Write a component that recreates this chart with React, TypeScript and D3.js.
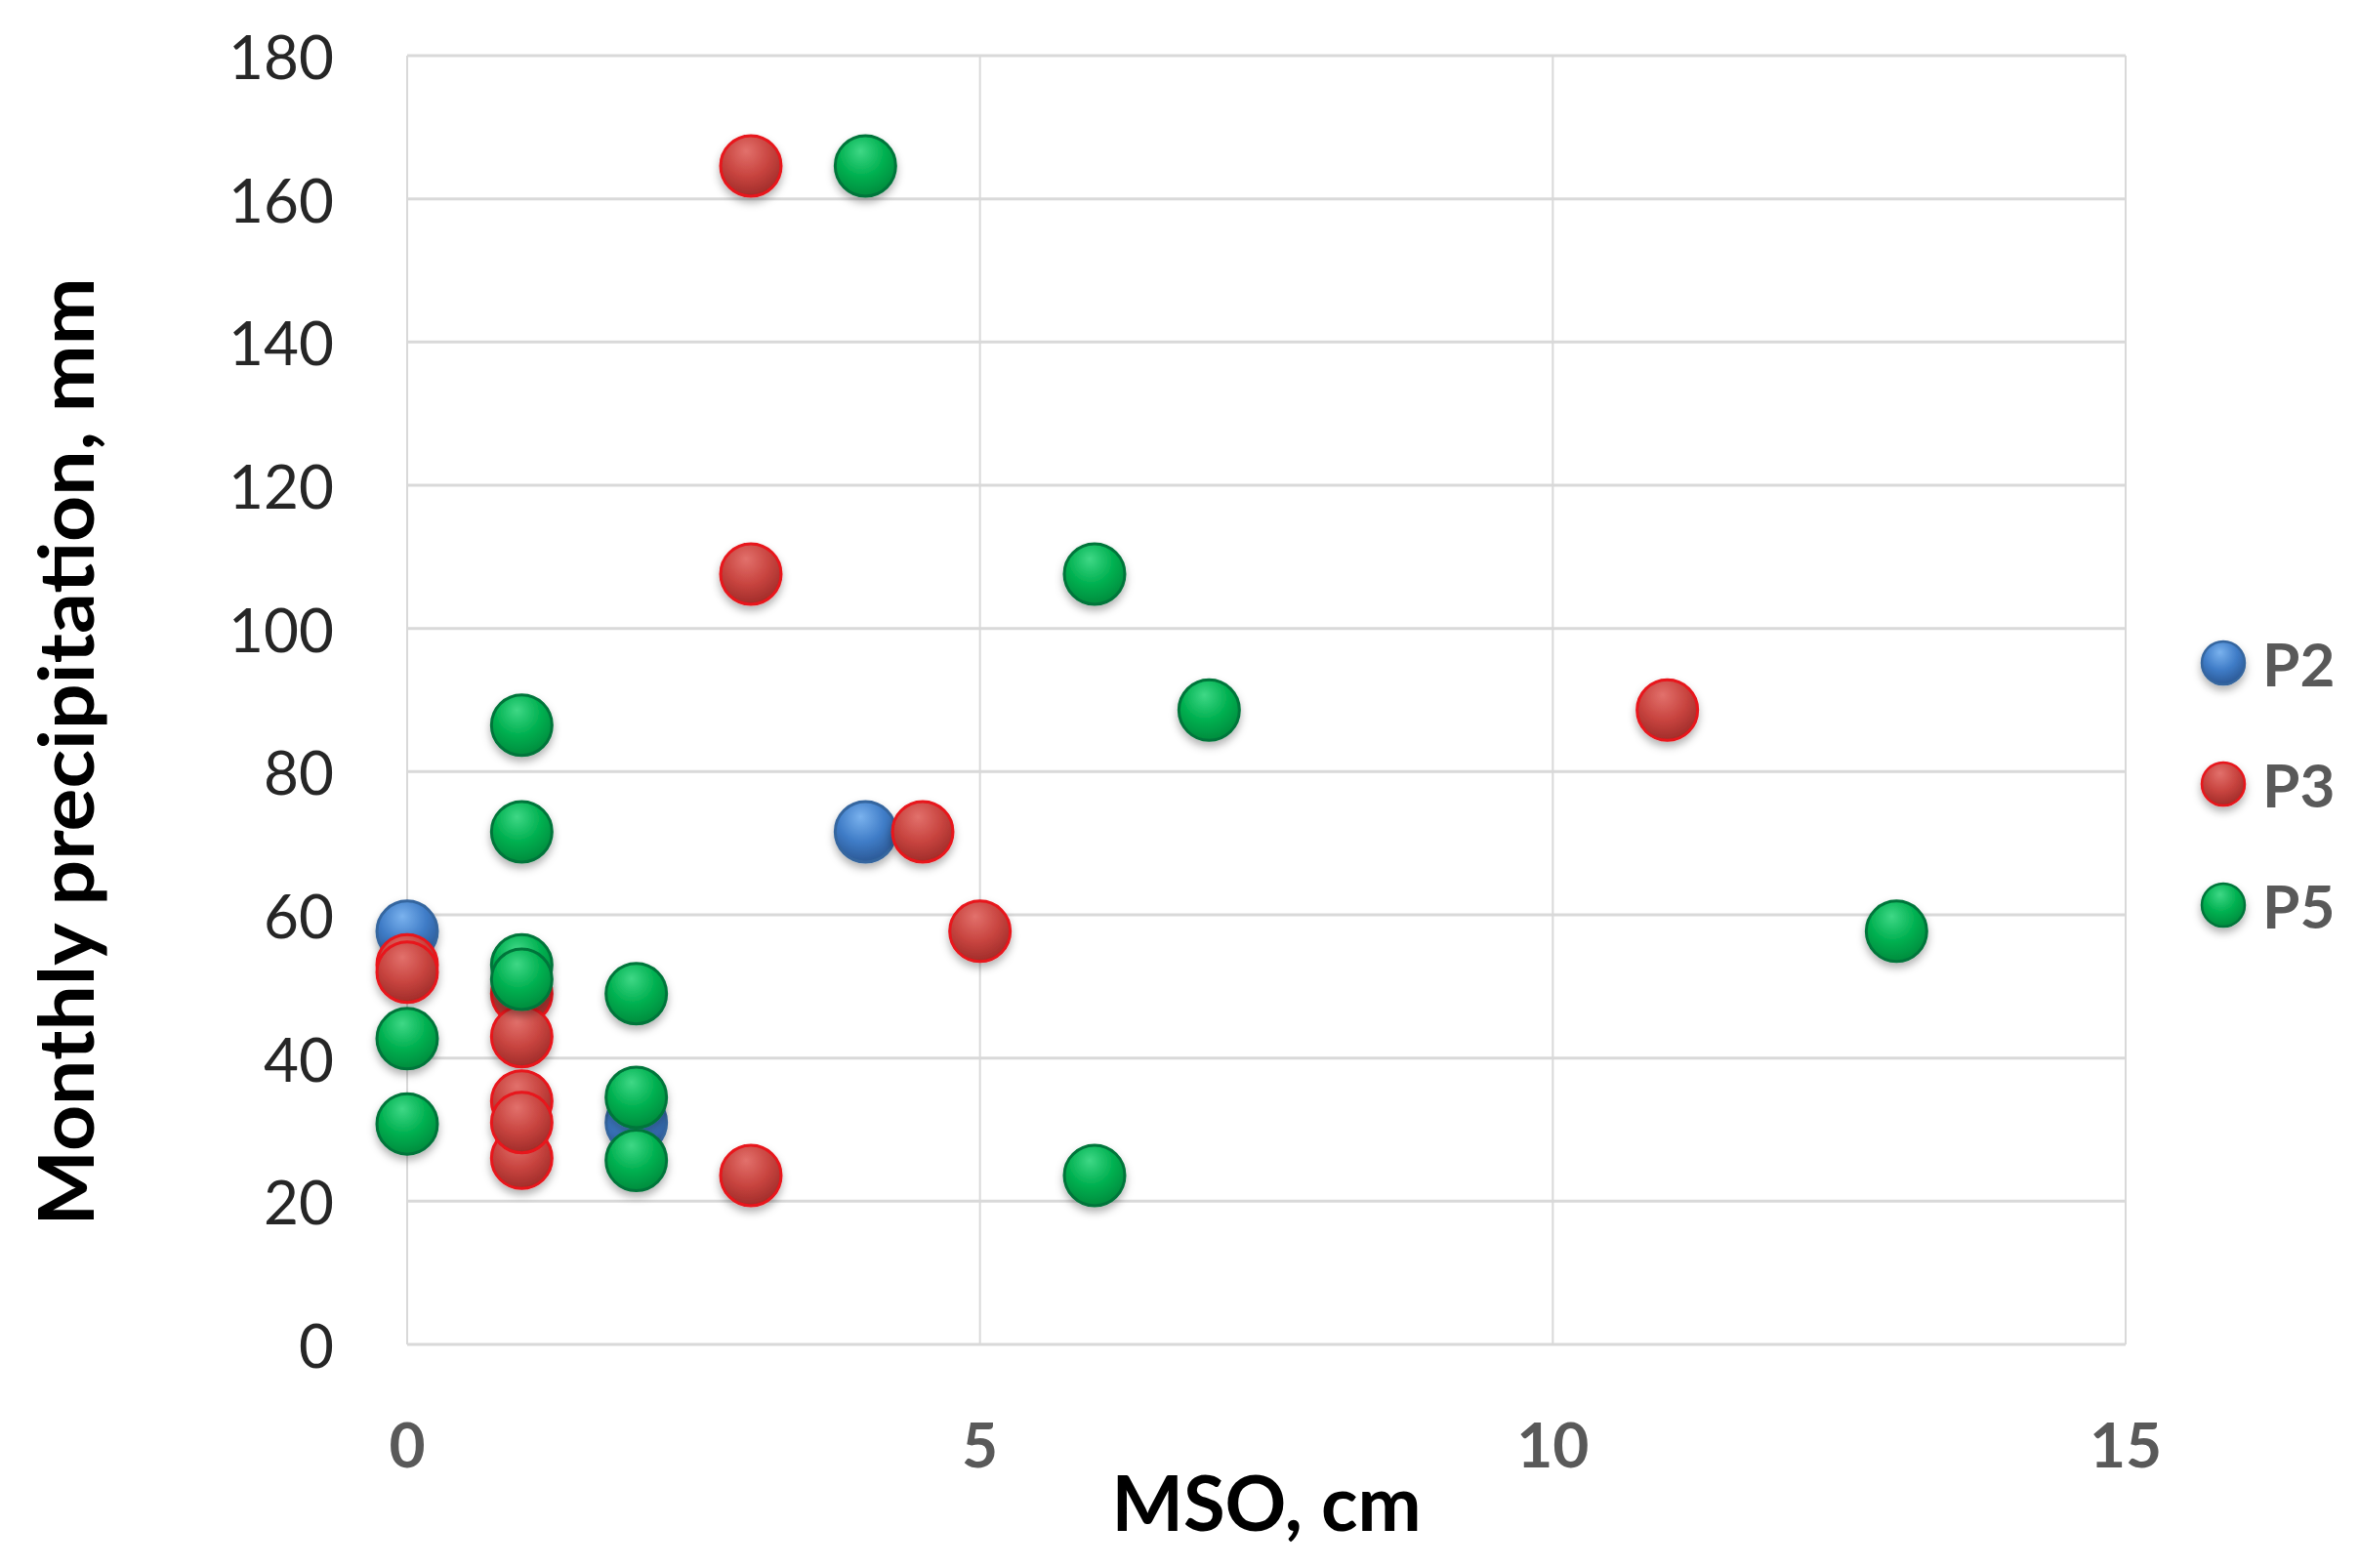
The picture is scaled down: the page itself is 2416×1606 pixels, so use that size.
import * as d3 from "d3"

// MSO (cm) vs monthly precipitation (mm), three sites
const p2X = [0, 4, 2]
const p2Y = [57.7, 71.6, 31]

const p3X = [3, 3, 11, 4.5, 5, 0, 0, 1, 1, 1, 1, 1, 3]
const p3Y = [164.6, 107.6, 88.6, 71.6, 57.7, 53, 52, 49, 43, 34, 26, 31, 23.6]

const p5X = [4, 6, 7, 1, 1, 13, 1, 1, 2, 0, 0, 2, 2, 6]
const p5Y = [164.6, 107.6, 88.6, 86.5, 71.6, 57.7, 53, 51, 49, 42.7, 30.8, 34.5, 25.7, 23.6]

const xTicks = [0, 5, 10, 15]
const yTicks = [0, 20, 40, 60, 80, 100, 120, 140, 160, 180]

const seriesNames = ["P2", "P3", "P5"]

interface Series {
  name: string
  xs: number[]
  ys: number[]
  light: string
  base: string
  dark: string
  stroke: string
}

const series: Series[] = [
  { name: seriesNames[0], xs: p2X, ys: p2Y, light: "#7ab2ee", base: "#3f7cc7", dark: "#2a5793", stroke: "#35669f" },
  { name: seriesNames[1], xs: p3X, ys: p3Y, light: "#e2716c", base: "#c8443f", dark: "#9e2b28", stroke: "#e8141a" },
  { name: seriesNames[2], xs: p5X, ys: p5Y, light: "#3fd886", base: "#00b050", dark: "#008a3c", stroke: "#00753a" },
]

const W = 2416
const H = 1606
const margin = { left: 417, right: 2177, top: 57, bottom: 1377 }

export default function App() {
  const x = d3.scaleLinear().domain([0, 15]).range([margin.left, margin.right])
  const y = d3.scaleLinear().domain([0, 180]).range([margin.bottom, margin.top])
  const r = 31

  return (
    <div style={{ position: "fixed", left: 0, top: 0 }}>
      <svg width={W} height={H} style={{ display: "block", background: "#fff" }}>
        <defs>
          {series.map((s) => (
            <radialGradient key={s.name} id={`grad-${s.name}`} cx="45%" cy="32%" r="70%" fx="42%" fy="25%">
              <stop offset="0%" stopColor={s.light} />
              <stop offset="55%" stopColor={s.base} />
              <stop offset="100%" stopColor={s.dark} />
            </radialGradient>
          ))}
          <filter id="shadow" x="-50%" y="-50%" width="200%" height="200%">
            <feDropShadow dx="0" dy="5" stdDeviation="4" floodColor="#000" floodOpacity="0.3" />
          </filter>
        </defs>

        {/* gridlines */}
        {yTicks.map((t) => (
          <line key={`gy${t}`} x1={margin.left} x2={margin.right} y1={y(t)} y2={y(t)} stroke="#d9d9d9" strokeWidth={3} />
        ))}
        {xTicks.map((t) => (
          <line key={`gx${t}`} x1={x(t)} x2={x(t)} y1={margin.top} y2={margin.bottom} stroke="#d9d9d9" strokeWidth={2} />
        ))}

        {/* y tick labels */}
        {yTicks.map((t) => (
          <text
            key={`ty${t}`}
            x={342}
            y={y(t)}
            textAnchor="end"
            dominantBaseline="central"
            fontFamily="Lato, 'Open Sans', sans-serif"
            fontSize={62}
            fill="#262626"
          >
            {t}
          </text>
        ))}

        {/* x tick labels */}
        {xTicks.map((t) => (
          <text
            key={`tx${t}`}
            x={x(t)}
            y={1478}
            textAnchor="middle"
            dominantBaseline="central"
            fontFamily="Lato, 'Open Sans', sans-serif"
            fontWeight="bold"
            fontSize={64}
            fill="#595959"
          >
            {t}
          </text>
        ))}

        {/* points */}
        {series.map((s) => (
          <g key={s.name} filter="url(#shadow)">
            {s.xs.map((v, i) => (
              <circle
                key={i}
                cx={x(v)}
                cy={y(s.ys[i])}
                r={r}
                fill={`url(#grad-${s.name})`}
                stroke={s.stroke}
                strokeWidth={3}
              />
            ))}
          </g>
        ))}

        {/* axis titles */}
        <text
          x={1297}
          y={1568}
          textAnchor="middle"
          fontFamily="Lato, 'Open Sans', sans-serif"
          fontWeight="bold"
          fontSize={78}
          fill="#000"
          textLength={317}
          lengthAdjust="spacingAndGlyphs"
        >
          MSO, cm
        </text>
        <text
          transform={`translate(96,770) rotate(-90)`}
          textAnchor="middle"
          fontFamily="Lato, 'Open Sans', sans-serif"
          fontWeight="bold"
          fontSize={78}
          fill="#000"
          textLength={971}
          lengthAdjust="spacingAndGlyphs"
        >
          Monthly precipitation, mm
        </text>

        {/* legend */}
        {series.map((s, i) => (
          <g key={`lg${s.name}`} transform={`translate(2277,${679 + i * 124})`}>
            <circle r={22} fill={`url(#grad-${s.name})`} stroke={s.stroke} strokeWidth={2.5} filter="url(#shadow)" />
            <text
              x={40}
              y={0}
              dominantBaseline="central"
              fontFamily="Lato, 'Open Sans', sans-serif"
              fontWeight="bold"
              fontSize={62}
              fill="#595959"
            >
              {s.name}
            </text>
          </g>
        ))}
      </svg>
    </div>
  )
}
